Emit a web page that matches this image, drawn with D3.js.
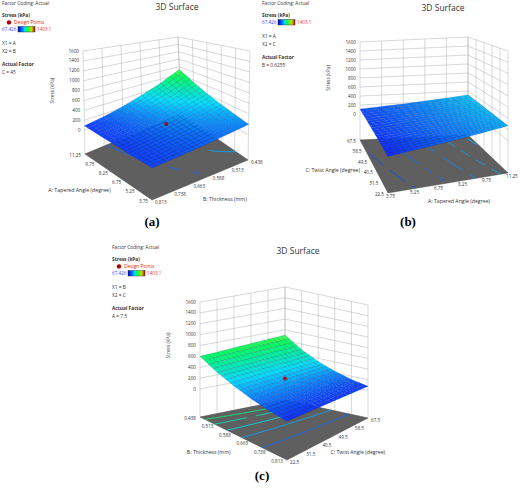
<!DOCTYPE html>
<html><head><meta charset="utf-8">
<script src="https://cdn.jsdelivr.net/npm/d3@7"></script>
<style>body{margin:0;background:#fff}svg{font-family:"Open Sans",Arial,sans-serif}</style>
</head><body><svg id="c" width="520" height="488"></svg>
<script>
// ---------- data ----------
const zTicks = [0,200,400,600,800,1000,1200,1400,1600];
const aTicks = ["3.75","5.25","6.75","8.25","9.75","11.25"];
const bTicks = ["0.813","0.738","0.663","0.588","0.513","0.438"];
const bTicksC = ["0.438","0.513","0.588","0.663","0.738","0.813"];
const cTicks = ["22.5","31.5","40.5","49.5","58.5","67.5"];
// panel a: rows A 3.75..11.25, cols B 0.813..0.438 (C = 45)
const stressA = [
 [100,110,125,145,170,200],
 [95,110,135,165,205,255],
 [92,115,150,195,250,320],
 [90,120,170,235,315,410],
 [88,128,195,285,395,540],
 [88,140,225,345,500,720]];
// panel b: rows A 3.75..11.25, cols C 22.5..67.5 (B = 0.6255)
const stressB = [
 [60,70,80,90,100,110],
 [95,105,115,125,135,145],
 [130,140,150,160,170,180],
 [170,180,190,200,210,220],
 [215,225,235,245,255,265],
 [265,275,285,295,305,315]];
// panel c: rows B 0.438..0.813, cols C 22.5..67.5 (A = 7.5)
const stressC = [
 [600,620,640,660,680,700],
 [420,435,450,465,480,495],
 [290,300,310,320,330,340],
 [190,197,204,211,218,225],
 [120,124,128,132,136,140],
 [70,72,74,76,78,80]];
const designA = [{u:0.5,v:0.5,z:200}];
const designC = [{u:0.5,v:0.5,z:280}];
const contoursA = [150,250,350,450,550,650];
const contoursB = [100,150,200,250,300];
const contoursC = [150,250,350,450,550];

const svg = d3.select("#c");
const colorZ = d3.scaleLinear().domain([67.4,330,600,1000,1403.1])
  .range(["#1030ff","#00e0ff","#00ff60","#ffff00","#ff0000"]).clamp(true);

const defs = svg.append("defs");
const lg = defs.append("linearGradient").attr("id","cb");
[["0","#0000a0"],["0.15","#0040ff"],["0.4","#00e0ff"],["0.55","#00ff40"],["0.8","#c0e000"],["1","#c00000"]]
 .forEach(([o,c])=>lg.append("stop").attr("offset",o).attr("stop-color",c));

function panel(cfg){
  const g = svg.append("g");
  const F=cfg.floor, T=cfg.top;
  const bil=(M,u,v)=>[0,1].map(i=>M["00"][i]*(1-u)*(1-v)+M["10"][i]*u*(1-v)+M["01"][i]*(1-u)*v+M["11"][i]*u*v);
  const wOf=z=>(z-cfg.zFloor)/(1600-cfg.zFloor);
  const P=(u,v,z)=>{const f=bil(F,u,v),t=bil(T,u,v),w=wOf(z);return [f[0]+w*(t[0]-f[0]),f[1]+w*(t[1]-f[1])];};
  const Pf=(u,v)=>bil(F,u,v);
  const line=d3.line();
  const bu=+cfg.back[0], bv=+cfg.back[1];
  const zs=[cfg.zFloor].concat(zTicks);
  cfg.walls.forEach(wk=>{
    const cu=+wk[0], cv=+wk[1];
    for(let k=0;k<=5;k++){const t=k/5;const u=cu+(bu-cu)*t, v=cv+(bv-cv)*t;
      g.append("path").attr("d",line([P(u,v,cfg.zFloor),P(u,v,1600)])).attr("stroke","#b0b0b0").attr("stroke-width",0.5).attr("fill","none");}
    zs.forEach(z=>g.append("path").attr("d",line([P(cu,cv,z),P(bu,bv,z)])).attr("stroke","#b0b0b0").attr("stroke-width",0.5).attr("fill","none"));
  });
  g.append("path").attr("d",line([Pf(0,0),Pf(1,0),Pf(1,1),Pf(0,1)])+"Z").attr("fill","#5f5f5f").attr("stroke","#444").attr("stroke-width",0.4);
  const D=cfg.data, n=D.length-1, sub=4, N=n*sub;
  const val=(u,v)=>{const x=u*n,y=v*n;const i=Math.min(Math.floor(x),n-1),j=Math.min(Math.floor(y),n-1);const fx=x-i,fy=y-j;
    return D[i][j]*(1-fx)*(1-fy)+D[i+1][j]*fx*(1-fy)+D[i][j+1]*(1-fx)*fy+D[i+1][j+1]*fx*fy;};
  cfg.contours.forEach(th=>{
    for(let i=0;i<N;i++)for(let j=0;j<N;j++){
      const c=[[i,j],[i+1,j],[i+1,j+1],[i,j+1]].map(([a,b])=>[a/N,b/N,val(a/N,b/N)]);
      const pts=[];
      for(let e=0;e<4;e++){const p=c[e],q=c[(e+1)%4];
        if((p[2]-th)*(q[2]-th)<0){const t=(th-p[2])/(q[2]-p[2]);pts.push(Pf(p[0]+(q[0]-p[0])*t,p[1]+(q[1]-p[1])*t));}}
      if(pts.length>=2)g.append("path").attr("d",line(pts.slice(0,2))).attr("stroke",colorZ(th)).attr("stroke-width",0.8).attr("fill","none");
    }});
  const quads=[];
  for(let i=0;i<N;i++)for(let j=0;j<N;j++){
    const u0=i/N,u1=(i+1)/N,v0=j/N,v1=(j+1)/N;
    const cu=(u0+u1)/2,cv=(v0+v1)/2;
    quads.push({d:Math.abs(cu-bu)+Math.abs(cv-bv),
      pts:[P(u0,v0,val(u0,v0)),P(u1,v0,val(u1,v0)),P(u1,v1,val(u1,v1)),P(u0,v1,val(u0,v1))],z:val(cu,cv)});
  }
  quads.sort((a,b)=>a.d-b.d);
  g.selectAll(null).data(quads).join("path").attr("d",q=>line(q.pts)+"Z")
   .attr("fill",q=>colorZ(q.z)).attr("stroke","rgba(10,20,90,0.45)").attr("stroke-width",0.35);
  (cfg.design||[]).forEach(d=>{const p=P(d.u,d.v,d.z);g.append("circle").attr("cx",p[0]).attr("cy",p[1]).attr("r",1.8).attr("fill","#c00000").attr("stroke","#600").attr("stroke-width",0.3);});
  const zc=cfg.zCorner;
  zTicks.forEach(z=>{const p=P(+zc[0],+zc[1],z);g.append("text").attr("x",p[0]-4).attr("y",p[1]+1.5).attr("text-anchor","end").attr("font-size",4.6).attr("fill","#333").text(z);});
  const zm=P(+zc[0],+zc[1],800);
  g.append("text").attr("transform",`translate(${zm[0]-30},${zm[1]}) rotate(-90)`).attr("text-anchor","middle").attr("font-size",4.8).attr("fill","#333").text("Stress  (kPa)");
  cfg.edges.forEach(e=>{
    e.labels.forEach((l,k)=>{const t=k/(e.labels.length-1);const p=Pf(e.from[0]+(e.to[0]-e.from[0])*t,e.from[1]+(e.to[1]-e.from[1])*t);
      g.append("text").attr("x",p[0]+e.off[0]).attr("y",p[1]+e.off[1]).attr("text-anchor",e.anchor).attr("font-size",4.6).attr("fill","#333").text(l);});
    const m=Pf((e.from[0]+e.to[0])/2,(e.from[1]+e.to[1])/2);
    g.append("text").attr("x",m[0]+e.toff[0]).attr("y",m[1]+e.toff[1]).attr("text-anchor",e.anchor).attr("font-size",5.2).attr("fill","#333").text(e.title);
  });
  const [lx,ly]=cfg.legend;
  const L=g.append("g").attr("transform",`translate(${lx},${ly})`);
  L.append("text").attr("x",0).attr("y",0).attr("font-size",4.8).attr("fill","#333").text("Factor Coding: Actual");
  L.append("text").attr("x",0).attr("y",12).attr("font-size",4.8).attr("font-weight","bold").attr("fill","#333").text("Stress  (kPa)");
  let yy=12;
  if(cfg.design){yy+=7;L.append("circle").attr("cx",7).attr("cy",yy-1.6).attr("r",2.2).attr("fill","#b00000");
    L.append("text").attr("x",12).attr("y",yy).attr("font-size",4.8).attr("fill","#e02020").text("Design Points");}
  yy+=7;
  L.append("text").attr("x",0).attr("y",yy).attr("font-size",4.6).attr("fill","#4040ff").text("67.426");
  L.append("rect").attr("x",16).attr("y",yy-4.5).attr("width",17).attr("height",5.5).attr("fill","url(#cb)").attr("stroke","#222").attr("stroke-width",0.4);
  L.append("text").attr("x",35).attr("y",yy).attr("font-size",4.6).attr("fill","#ff3030").text("1403.1");
  yy+=14;
  L.append("text").attr("x",0).attr("y",yy).attr("font-size",4.8).attr("fill","#333").text(cfg.x1);
  L.append("text").attr("x",0).attr("y",yy+7.5).attr("font-size",4.8).attr("fill","#333").text(cfg.x2);
  L.append("text").attr("x",0).attr("y",yy+21).attr("font-size",4.8).attr("font-weight","bold").attr("fill","#333").text("Actual Factor");
  L.append("text").attr("x",0).attr("y",yy+28.5).attr("font-size",4.8).attr("fill","#333").text(cfg.af);
  g.append("text").attr("x",cfg.title[0]).attr("y",cfg.title[1]).attr("text-anchor","middle").attr("font-size",8.5).attr("fill","#333").text("3D Surface");
  g.append("text").attr("x",cfg.tag[0]).attr("y",cfg.tag[1]).attr("text-anchor","middle").attr("font-size",13).attr("font-weight","bold").attr("font-family","Liberation Serif,serif").attr("fill","#000").text(cfg.tag[2]);
}

panel({data:stressA,zFloor:-480,
  floor:{"00":[152,200],"10":[85,154],"01":[248,160],"11":[181,114]},
  top:{"00":[152,85],"10":[83,51],"01":[250,51],"11":[178,37]},
  back:"11",walls:["10","01"],zCorner:"10",contours:contoursA,design:designA,
  edges:[{from:[0,0],to:[1,0],labels:aTicks,off:[-4,2.5],anchor:"end",title:"A: Tapered Angle (degree)",toff:[-8,15]},
         {from:[0,0],to:[0,1],labels:bTicks,off:[3,4],anchor:"start",title:"B: Thickness  (mm)",toff:[3,21]}],
  legend:[2,5],x1:"X1 = A",x2:"X2 = B",af:"C = 45",title:[177,10],tag:[152,226,"(a)"]});

panel({data:stressB,zFloor:-577,
  floor:{"00":[388,193],"01":[360,140],"10":[508,173],"11":[468,135]},
  top:{"00":[388,68],"01":[360,42],"10":[508,51],"11":[468,37]},
  back:"11",walls:["10","01"],zCorner:"01",contours:contoursB,design:null,
  edges:[{from:[0,0],to:[0,1],labels:cTicks,off:[-4,2.5],anchor:"end",title:"C: Twist Angle (degree)",toff:[-14,5]},
         {from:[0,0],to:[1,0],labels:aTicks,off:[-2,5],anchor:"start",title:"A: Tapered Angle (degree)",toff:[-20,20]}],
  legend:[262,5],x1:"X1 = A",x2:"X2 = C",af:"B = 0.6255",title:[443,11],tag:[408,226,"(b)"]});

panel({data:stressC,zFloor:-514,
  floor:{"00":[200,417],"10":[287,460],"11":[368,418],"01":[285,400]},
  top:{"00":[200,302],"10":[287,320],"11":[368,305],"01":[285,287]},
  back:"01",walls:["00","11"],zCorner:"00",contours:contoursC,design:designC,
  edges:[{from:[0,0],to:[1,0],labels:bTicksC,off:[-4,2.5],anchor:"end",title:"B: Thickness  (mm)",toff:[-13,15]},
         {from:[1,0],to:[1,1],labels:cTicks,off:[3,4],anchor:"start",title:"C: Twist Angle (degree)",toff:[3,15]}],
  legend:[112,249],x1:"X1 = B",x2:"X2 = C",af:"A = 7.5",title:[298,254],tag:[262,480,"(c)"]});
</script></body></html>
